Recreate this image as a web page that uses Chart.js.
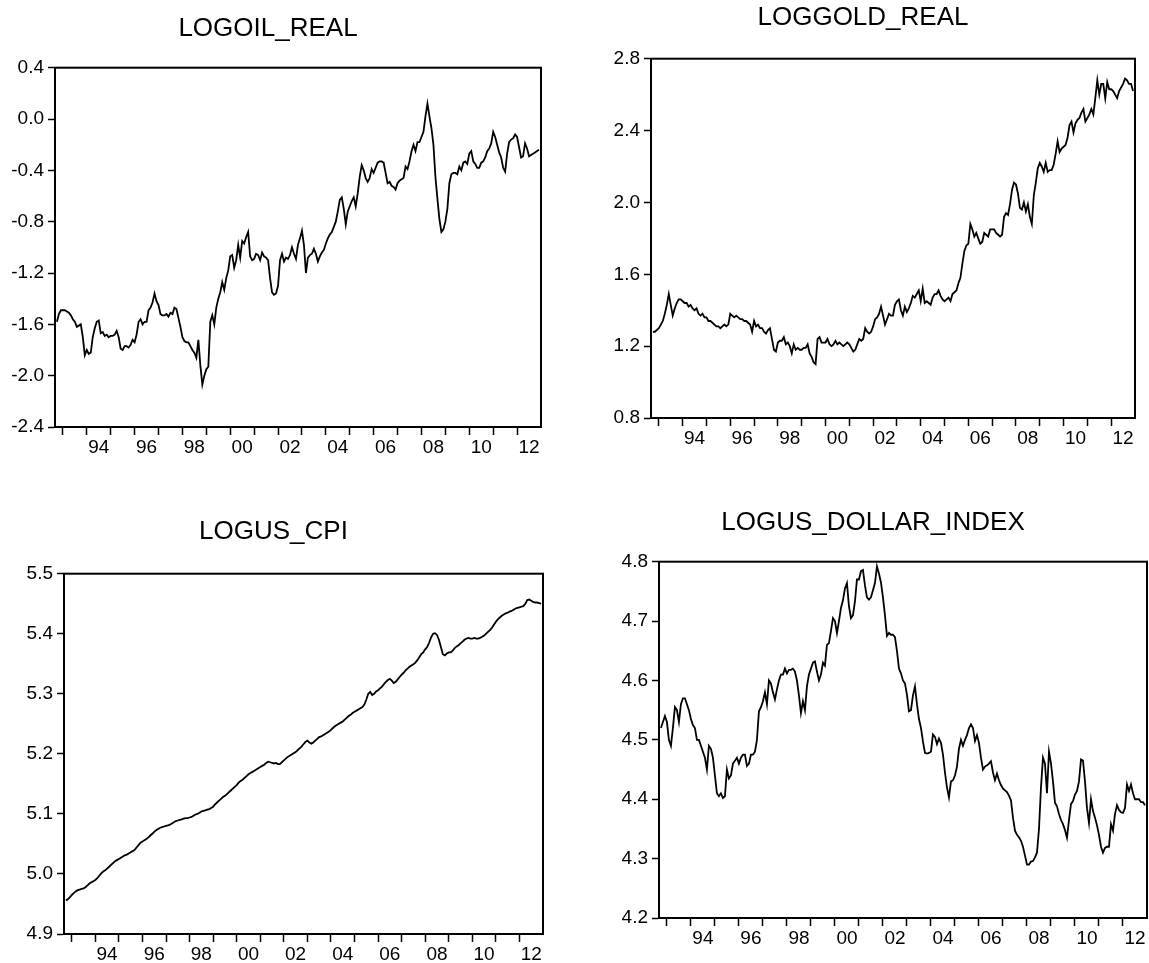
<!DOCTYPE html>
<html>
<head>
<meta charset="utf-8">
<script src="https://cdn.jsdelivr.net/npm/chart.js@4.4.1/dist/chart.umd.min.js"></script>
<style>
body { margin: 0; background: #fff; width: 1149px; height: 963px; position: relative; overflow: hidden; }
canvas { position: absolute; }
</style>
</head>
<body>
<canvas id="oil"></canvas>
<canvas id="gold"></canvas>
<canvas id="cpi"></canvas>
<canvas id="dollar"></canvas>
<script>
// monthly series, 1992M10 .. 2012M12
const startYear = 1992;
const startMonth = 10;

const oilReal = [
  -1.58, -1.52, -1.49,
  -1.49, -1.49, -1.50, -1.51, -1.53, -1.56, -1.58, -1.62, -1.61, -1.60, -1.70, -1.84,
  -1.80, -1.83, -1.82, -1.70, -1.63, -1.58, -1.57, -1.67, -1.66, -1.69, -1.68, -1.70,
  -1.69, -1.69, -1.68, -1.65, -1.70, -1.79, -1.80, -1.77, -1.77, -1.78, -1.76, -1.72,
  -1.74, -1.68, -1.58, -1.56, -1.60, -1.58, -1.58, -1.49, -1.47, -1.43, -1.36, -1.42,
  -1.45, -1.52, -1.53, -1.53, -1.52, -1.54, -1.51, -1.52, -1.47, -1.48, -1.55, -1.62,
  -1.70, -1.73, -1.74, -1.74, -1.77, -1.80, -1.82, -1.86, -1.72, -1.92, -2.07, -2.00,
  -1.95, -1.93, -1.58, -1.53, -1.60, -1.47, -1.40, -1.35, -1.27, -1.33, -1.24, -1.18,
  -1.07, -1.06, -1.16, -1.10, -0.98, -1.08, -0.95, -0.97, -0.92, -0.88, -1.07, -1.10,
  -1.09, -1.05, -1.06, -1.10, -1.04, -1.07, -1.08, -1.10, -1.24, -1.35, -1.37, -1.36,
  -1.30, -1.10, -1.05, -1.11, -1.08, -1.09, -1.06, -1.00, -1.05, -1.09, -0.98, -0.93,
  -0.87, -0.98, -1.20, -1.08, -1.06, -1.05, -1.01, -1.05, -1.11, -1.07, -1.04, -1.02,
  -0.97, -0.93, -0.90, -0.88, -0.84, -0.80, -0.72, -0.63, -0.61, -0.70, -0.82, -0.72,
  -0.68, -0.64, -0.61, -0.68, -0.58, -0.45, -0.36, -0.40, -0.46, -0.49, -0.46, -0.39,
  -0.42, -0.38, -0.34, -0.33, -0.33, -0.34, -0.42, -0.50, -0.49, -0.52, -0.53, -0.55,
  -0.50, -0.48, -0.47, -0.46, -0.37, -0.39, -0.33, -0.25, -0.20, -0.25, -0.18, -0.18,
  -0.14, -0.10, 0.02, 0.12, 0.02, -0.07, -0.20, -0.45, -0.62, -0.78, -0.88, -0.86,
  -0.80, -0.70, -0.50, -0.43, -0.42, -0.42, -0.43, -0.37, -0.40, -0.34, -0.33, -0.35,
  -0.27, -0.25, -0.33, -0.35, -0.38, -0.38, -0.34, -0.33, -0.30, -0.25, -0.23, -0.19,
  -0.10, -0.14, -0.20, -0.26, -0.30, -0.38, -0.41, -0.27, -0.18, -0.16, -0.15, -0.12,
  -0.14, -0.22, -0.30, -0.29, -0.19, -0.23, -0.29, -0.28, -0.27, -0.26, -0.25, -0.24
];

const goldReal = [
  1.28, 1.28, 1.29,
  1.30, 1.32, 1.34, 1.38, 1.43, 1.49, 1.43, 1.37, 1.41, 1.44, 1.46, 1.46,
  1.45, 1.44, 1.44, 1.42, 1.43, 1.41, 1.40, 1.41, 1.38, 1.37, 1.38, 1.36,
  1.36, 1.34, 1.34, 1.33, 1.32, 1.31, 1.31, 1.30, 1.31, 1.32, 1.31, 1.32,
  1.38, 1.37, 1.36, 1.37, 1.36, 1.35, 1.35, 1.34, 1.34, 1.33, 1.32, 1.28,
  1.34, 1.31, 1.32, 1.30, 1.30, 1.28, 1.27, 1.29, 1.30, 1.24, 1.18, 1.17,
  1.22, 1.23, 1.23, 1.25, 1.21, 1.22, 1.20, 1.16, 1.21, 1.18, 1.19, 1.18,
  1.18, 1.19, 1.19, 1.21, 1.16, 1.14, 1.11, 1.10, 1.24, 1.25, 1.22, 1.22,
  1.22, 1.24, 1.21, 1.20, 1.21, 1.23, 1.21, 1.22, 1.21, 1.20, 1.21, 1.22,
  1.21, 1.19, 1.17, 1.18, 1.21, 1.24, 1.23, 1.24, 1.30, 1.28, 1.27, 1.28,
  1.31, 1.35, 1.36, 1.38, 1.42, 1.37, 1.32, 1.35, 1.38, 1.37, 1.37, 1.43,
  1.45, 1.46, 1.40, 1.37, 1.42, 1.39, 1.41, 1.44, 1.48, 1.47, 1.49, 1.51,
  1.45, 1.52, 1.44, 1.45, 1.44, 1.43, 1.47, 1.49, 1.49, 1.51, 1.48, 1.46,
  1.45, 1.46, 1.47, 1.45, 1.49, 1.50, 1.51, 1.55, 1.58, 1.66, 1.73, 1.76,
  1.77, 1.88, 1.85, 1.81, 1.83, 1.80, 1.77, 1.78, 1.83, 1.82, 1.81, 1.85,
  1.85, 1.85, 1.83, 1.82, 1.81, 1.82, 1.92, 1.94, 1.93, 1.99, 2.07, 2.11,
  2.10, 2.05, 1.97, 1.96, 2.00, 1.95, 1.99, 1.92, 1.88, 2.04, 2.11, 2.19,
  2.22, 2.20, 2.17, 2.22, 2.17, 2.18, 2.18, 2.21, 2.27, 2.34, 2.28, 2.30,
  2.31, 2.32, 2.36, 2.43, 2.45, 2.39, 2.44, 2.46, 2.47, 2.50, 2.52, 2.45,
  2.47, 2.49, 2.52, 2.49, 2.58, 2.68, 2.60, 2.66, 2.66, 2.58, 2.67, 2.63,
  2.63, 2.62, 2.60, 2.58, 2.62, 2.64, 2.66, 2.69, 2.68, 2.66, 2.66, 2.62
];

const usCpi = [
  4.956, 4.958, 4.961,
  4.965, 4.968, 4.971, 4.973, 4.974, 4.975, 4.976, 4.978, 4.981, 4.984, 4.986, 4.988,
  4.990, 4.993, 4.997, 5.001, 5.004, 5.006, 5.009, 5.012, 5.015, 5.018, 5.021, 5.023,
  5.025, 5.027, 5.029, 5.031, 5.032, 5.034, 5.036, 5.038, 5.040, 5.044, 5.048, 5.052,
  5.054, 5.056, 5.058, 5.061, 5.064, 5.067, 5.070, 5.073, 5.075, 5.077, 5.078, 5.079,
  5.080, 5.081, 5.082, 5.084, 5.086, 5.088, 5.089, 5.090, 5.091, 5.092, 5.093, 5.093,
  5.094, 5.095, 5.097, 5.099, 5.100, 5.102, 5.104, 5.105, 5.106, 5.107, 5.108, 5.110,
  5.112, 5.116, 5.119, 5.122, 5.125, 5.128, 5.130, 5.133, 5.136, 5.139, 5.142, 5.145,
  5.148, 5.152, 5.155, 5.157, 5.160, 5.163, 5.166, 5.168, 5.170, 5.172, 5.174, 5.176,
  5.178, 5.180, 5.182, 5.185, 5.187, 5.186, 5.185, 5.184, 5.185, 5.183, 5.183, 5.186,
  5.189, 5.192, 5.195, 5.197, 5.199, 5.201, 5.203, 5.206, 5.209, 5.212, 5.216, 5.220,
  5.222, 5.219, 5.217, 5.219, 5.222, 5.225, 5.228, 5.229, 5.231, 5.233, 5.235, 5.237,
  5.240, 5.243, 5.246, 5.248, 5.250, 5.252, 5.254, 5.257, 5.260, 5.263, 5.265, 5.268,
  5.270, 5.272, 5.274, 5.276, 5.278, 5.282, 5.290, 5.300, 5.303, 5.298, 5.300, 5.304,
  5.306, 5.309, 5.312, 5.316, 5.320, 5.323, 5.325, 5.322, 5.318, 5.320, 5.324, 5.328,
  5.332, 5.335, 5.339, 5.342, 5.345, 5.347, 5.349, 5.352, 5.356, 5.361, 5.366, 5.369,
  5.374, 5.378, 5.385, 5.394, 5.400, 5.401, 5.398, 5.390, 5.378, 5.366, 5.364, 5.367,
  5.369, 5.369, 5.372, 5.376, 5.379, 5.381, 5.384, 5.387, 5.390, 5.392, 5.393, 5.392,
  5.392, 5.393, 5.392, 5.392, 5.393, 5.395, 5.397, 5.400, 5.403, 5.406, 5.410, 5.415,
  5.420, 5.424, 5.427, 5.430, 5.432, 5.434, 5.435, 5.437, 5.438, 5.440, 5.442, 5.443,
  5.444, 5.445, 5.446, 5.450, 5.456, 5.457, 5.455, 5.453, 5.452, 5.452, 5.451, 5.450
];

const usDollarIndex = [
  4.52, 4.53, 4.54,
  4.53, 4.50, 4.49, 4.52, 4.555, 4.55, 4.53, 4.56, 4.57, 4.57, 4.56, 4.55,
  4.535, 4.525, 4.52, 4.50, 4.50, 4.49, 4.48, 4.47, 4.45, 4.49, 4.485, 4.47,
  4.44, 4.41, 4.405, 4.41, 4.402, 4.405, 4.45, 4.435, 4.44, 4.46, 4.465, 4.47,
  4.46, 4.47, 4.475, 4.475, 4.456, 4.46, 4.475, 4.475, 4.48, 4.50, 4.548, 4.555,
  4.565, 4.58, 4.56, 4.60, 4.595, 4.58, 4.568, 4.585, 4.60, 4.61, 4.61, 4.62,
  4.612, 4.618, 4.618, 4.62, 4.615, 4.60, 4.575, 4.545, 4.565, 4.55, 4.59, 4.61,
  4.62, 4.63, 4.632, 4.615, 4.60, 4.61, 4.63, 4.625, 4.66, 4.663, 4.683, 4.705,
  4.70, 4.68, 4.70, 4.722, 4.735, 4.755, 4.764, 4.725, 4.705, 4.71, 4.733, 4.77,
  4.77, 4.784, 4.786, 4.76, 4.74, 4.736, 4.74, 4.752, 4.764, 4.792, 4.78, 4.765,
  4.74, 4.71, 4.675, 4.68, 4.677, 4.677, 4.673, 4.65, 4.62, 4.612, 4.60, 4.595,
  4.576, 4.548, 4.55, 4.575, 4.59, 4.56, 4.535, 4.52, 4.497, 4.478, 4.477, 4.478,
  4.48, 4.509, 4.505, 4.493, 4.502, 4.495, 4.475, 4.445, 4.42, 4.403, 4.43, 4.432,
  4.44, 4.455, 4.485, 4.50, 4.49, 4.50, 4.508, 4.52, 4.526, 4.52, 4.498, 4.508,
  4.495, 4.47, 4.45, 4.455, 4.457, 4.46, 4.464, 4.445, 4.432, 4.443, 4.432, 4.424,
  4.418, 4.415, 4.412, 4.406, 4.398, 4.369, 4.347, 4.340, 4.336, 4.33, 4.32, 4.305,
  4.29, 4.29, 4.295, 4.296, 4.302, 4.31, 4.35, 4.42, 4.47, 4.46, 4.41, 4.48,
  4.46, 4.43, 4.394, 4.388, 4.375, 4.365, 4.358, 4.348, 4.335, 4.365, 4.392, 4.397,
  4.408, 4.414, 4.43, 4.467, 4.465, 4.43, 4.385, 4.36, 4.40, 4.38, 4.369, 4.356,
  4.34, 4.32, 4.31, 4.318, 4.32, 4.32, 4.358, 4.347, 4.375, 4.39, 4.382, 4.378,
  4.377, 4.385, 4.425, 4.414, 4.425, 4.41, 4.40, 4.40, 4.40, 4.395, 4.395, 4.39
];

// axis ticks
const yTicksOil = [-2.4, -2.0, -1.6, -1.2, -0.8, -0.4, 0.0, 0.4];
const yTicksGold = [0.8, 1.2, 1.6, 2.0, 2.4, 2.8];
const yTicksCpi = [4.9, 5.0, 5.1, 5.2, 5.3, 5.4, 5.5];
const yTicksDollar = [4.2, 4.3, 4.4, 4.5, 4.6, 4.7, 4.8];
const xTickYears = [1993, 1994, 1995, 1996, 1997, 1998, 1999, 2000, 2001, 2002,
                    2003, 2004, 2005, 2006, 2007, 2008, 2009, 2010, 2011, 2012];
const xLabelYears = [1994, 1996, 1998, 2000, 2002, 2004, 2006, 2008, 2010, 2012];

const X_MIN = 1992.67;
const X_MAX = 2013.0;
const FONT = "'Liberation Sans', Arial, sans-serif";

const panels = [
  { id: 'oil', title: 'LOGOIL_REAL', values: oilReal, yTicks: yTicksOil, L: 55, T: 67, R: 541, B: 427, titleY: 28 },
  { id: 'gold', title: 'LOGGOLD_REAL', values: goldReal, yTicks: yTicksGold, L: 651, T: 58, R: 1135, B: 418, titleY: 17 },
  { id: 'cpi', title: 'LOGUS_CPI', values: usCpi, yTicks: yTicksCpi, L: 64, T: 573, R: 543, B: 934, titleY: 531 },
  { id: 'dollar', title: 'LOGUS_DOLLAR_INDEX', values: usDollarIndex, yTicks: yTicksDollar, L: 659, T: 561, R: 1147, B: 918, titleY: 522 }
];

// frame around the plot area
const boxPlugin = {
  id: 'box',
  afterDraw(chart) {
    const a = chart.chartArea;
    const ctx = chart.ctx;
    ctx.save();
    ctx.strokeStyle = '#000';
    ctx.lineWidth = 2;
    ctx.strokeRect(a.left, a.top, a.right - a.left, a.bottom - a.top);
    ctx.restore();
  }
};

function monthPos(i) {
  return startYear + (startMonth - 1 + i) / 12;
}

function makePanel(p) {
  // same margin on both sides so the title sits over the middle of the plot
  const YW = 60, XH = 40, TH = 31;
  const top = p.titleY - TH / 2;
  const w = YW + (p.R - p.L) + YW;
  const h = (p.B - top) + XH;
  const canvas = document.getElementById(p.id);
  canvas.width = w;
  canvas.height = h;
  canvas.style.left = (p.L - YW) + 'px';
  canvas.style.top = top + 'px';

  new Chart(canvas, {
    type: 'line',
    data: {
      datasets: [{
        data: p.values.map((v, i) => ({ x: monthPos(i), y: v })),
        borderColor: '#000',
        borderWidth: 1.8,
        pointRadius: 0,
        tension: 0,
        fill: false
      }]
    },
    options: {
      responsive: false,
      animation: false,
      devicePixelRatio: 1,
      layout: { padding: { left: 0, right: YW, top: 0, bottom: 0 } },
      plugins: {
        legend: { display: false },
        tooltip: { enabled: false },
        title: {
          display: true,
          text: p.title,
          color: '#000',
          font: { family: FONT, size: 26, weight: 'normal', lineHeight: 1.2 },
          padding: { top: 0, bottom: p.T - top - TH }
        }
      },
      scales: {
        x: {
          type: 'linear',
          min: X_MIN,
          max: X_MAX,
          afterBuildTicks: s => {
            const t = xTickYears.map(v => ({ value: v }))
              .concat(xLabelYears.map(v => ({ value: v + 0.5 })));
            t.sort((a, b) => a.value - b.value);
            s.ticks = t;
          },
          afterFit: s => { s.height = XH; },
          ticks: {
            autoSkip: false,
            maxRotation: 0,
            minRotation: 0,
            color: '#000',
            padding: 1,
            font: { family: FONT, size: 19 },
            callback: v => {
              const yr = v - 0.5;
              return Number.isInteger(yr) ? String(yr % 100).padStart(2, '0') : '';
            }
          },
          grid: {
            drawOnChartArea: false,
            tickLength: 8,
            tickWidth: 1.5,
            tickColor: ctx => (ctx.tick && Number.isInteger(ctx.tick.value)) ? '#000' : 'rgba(0,0,0,0)'
          },
          border: { color: '#000', width: 2 }
        },
        y: {
          min: p.yTicks[0],
          max: p.yTicks[p.yTicks.length - 1],
          afterBuildTicks: s => { s.ticks = p.yTicks.map(v => ({ value: v })); },
          afterFit: s => { s.width = YW; },
          ticks: {
            color: '#000',
            padding: 4,
            font: { family: FONT, size: 19 },
            callback: v => v.toFixed(1)
          },
          grid: { drawOnChartArea: false, tickLength: 7, tickWidth: 1.5, color: '#000' },
          border: { color: '#000', width: 2 }
        }
      }
    },
    plugins: [boxPlugin]
  });
}

panels.forEach(makePanel);
</script>
</body>
</html>
